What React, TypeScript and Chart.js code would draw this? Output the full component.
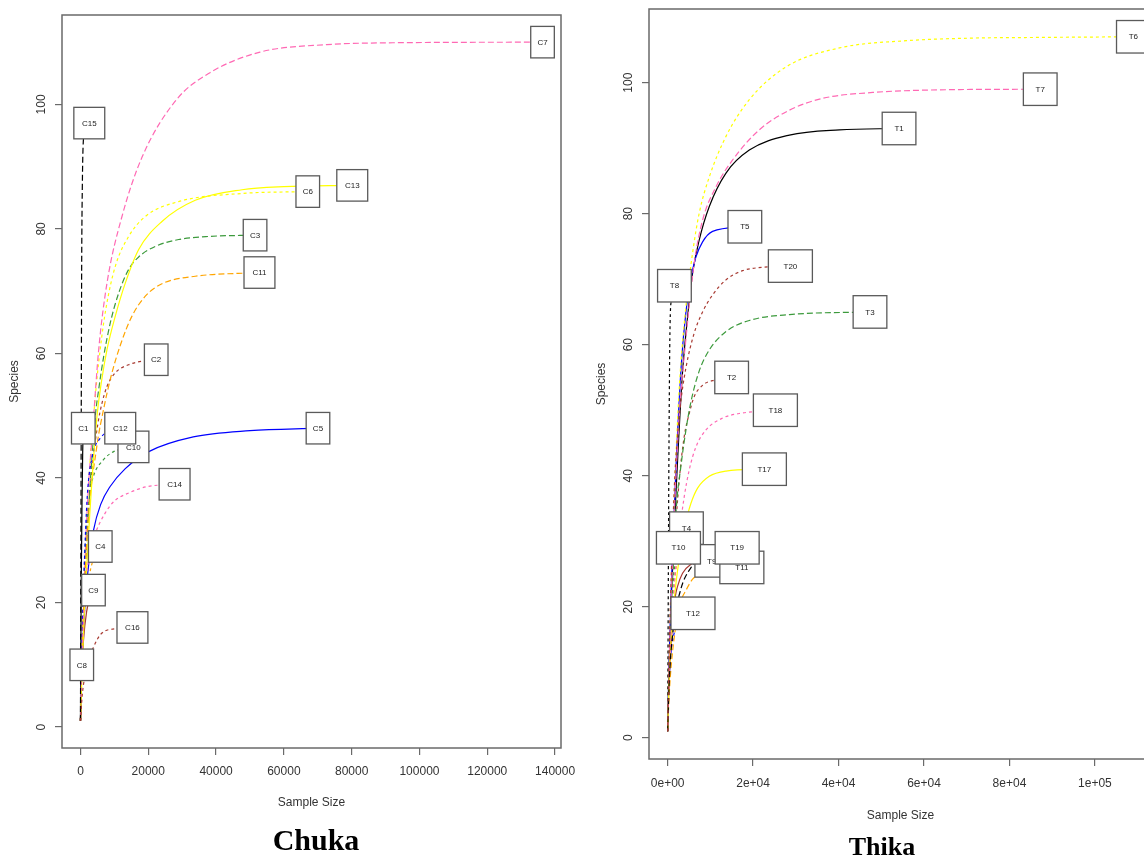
import React, { useEffect, useRef } from "react";
import { Chart, registerables } from "chart.js";

Chart.register(...registerables);

type Pair = [number, number];

// ---------- Chuka: [sample size, species] ----------
const C1: Pair[] = [[1, 1], [100, 12], [250, 25], [450, 36], [650, 44], [830, 48]];
const C2: Pair[] = [[1, 1], [500, 15], [2000, 32], [3500, 42], [5160, 48.8], [6340, 52], [7820, 54.7], [10270, 56.9], [14220, 58.2], [18530, 58.8], [22340, 59]];
const C3: Pair[] = [[1, 1], [700, 15], [2300, 34], [4370, 49.9], [5370, 54.2], [6840, 59.5], [8790, 64.9], [11270, 69.7], [14220, 73.5], [17170, 75.5], [22070, 77.2], [28970, 78.3], [38000, 78.8], [51500, 79]];
const C4: Pair[] = [[1, 1], [300, 9], [1000, 17], [2200, 23], [3800, 27], [5840, 29]];
const C5: Pair[] = [[1, 1], [300, 8], [1000, 17], [2200, 25], [3890, 31.7], [6000, 35.8], [8700, 38.6], [13220, 41.5], [20000, 44.2], [33270, 46.6], [50000, 47.6], [70060, 48]];
const C6: Pair[] = [[1, 1], [600, 15], [1800, 33], [4300, 52.6], [5800, 60.6], [7600, 67.5], [10270, 74], [14220, 78.8], [19120, 82], [28970, 84.4], [47640, 85.7], [67050, 86]];
const C7: Pair[] = [[1, 1], [600, 14], [1800, 33], [3890, 49.9], [5370, 60.6], [7820, 71.3], [12240, 82], [18140, 91.5], [28380, 100.8], [38200, 105.1], [52950, 108.4], [72630, 109.6], [92180, 109.9], [136300, 110]];
const C8: Pair[] = [[1, 1], [100, 4], [200, 7], [380, 10]];
const C9: Pair[] = [[1, 1], [300, 8], [900, 14], [1800, 18.5], [2800, 20.8], [3830, 22]];
const C10: Pair[] = [[1, 1], [300, 10], [1000, 24], [2800, 37.6], [3780, 40.2], [6730, 42.9], [9680, 44.2], [15620, 45]];
const C11: Pair[] = [[1, 1], [500, 12], [2000, 31], [4800, 45], [6800, 51], [9000, 56.3], [11800, 61.4], [15190, 66], [19120, 69.2], [24040, 71.2], [33860, 72.4], [52800, 73]];
const C12: Pair[] = [[1, 1], [300, 10], [1000, 24], [2000, 37], [3500, 43.5], [6000, 46.5], [9000, 47.6], [11730, 48]];
const C13: Pair[] = [[1, 1], [800, 14], [2500, 32], [4870, 49.9], [6140, 55.3], [7820, 60.6], [10270, 66], [13220, 71.3], [17170, 76.7], [24040, 81.2], [33860, 84.6], [47640, 86.3], [60000, 86.8], [80170, 87]];
const C14: Pair[] = [[1, 1], [400, 10], [1000, 19], [1830, 24.5], [2900, 28.5], [4370, 31.1], [7320, 34.4], [10000, 36.3], [14220, 37.6], [19500, 38.6], [27760, 39]];
const C15: Pair[] = [[1, 1], [60, 15], [150, 35], [250, 55], [350, 73.5], [550, 87], [830, 94], [1500, 96.3], [2600, 97]];
const C16: Pair[] = [[1, 1], [500, 5], [1830, 9.5], [3890, 12.9], [6340, 15.1], [10500, 15.8], [15330, 16]];

const chukaNames = ["C1", "C2", "C3", "C4", "C5", "C6", "C7", "C8", "C9", "C10", "C11", "C12", "C13", "C14", "C15", "C16"];
const chukaCurves: Pair[][] = [C1, C2, C3, C4, C5, C6, C7, C8, C9, C10, C11, C12, C13, C14, C15, C16];
const chukaXTicks = [0, 20000, 40000, 60000, 80000, 100000, 120000, 140000];
const chukaXTickLabels = ["0", "20000", "40000", "60000", "80000", "100000", "120000", "140000"];
const chukaYTicks = [0, 20, 40, 60, 80, 100];
const chukaYTickLabels = ["0", "20", "40", "60", "80", "100"];

// ---------- Thika ----------
const T1: Pair[] = [[1, 1], [300, 10], [900, 22], [2000, 38], [3400, 55], [4400, 62.5], [5840, 70.9], [7400, 76], [9750, 81.1], [13660, 86.2], [19120, 89.7], [28500, 92], [40220, 92.8], [54160, 93]];
const T2: Pair[] = [[1, 1], [400, 11], [1300, 26], [2720, 39.3], [3890, 46], [5060, 49.5], [6230, 52.1], [8180, 53.8], [10990, 54.6], [14980, 55]];
const T3: Pair[] = [[1, 1], [400, 11], [1950, 34.3], [3120, 41.5], [4290, 47], [5460, 51.3], [7400, 56], [9750, 59.2], [13660, 62], [19120, 63.7], [28500, 64.6], [47360, 65]];
const T4: Pair[] = [[1, 1], [300, 10], [900, 18], [1800, 25], [3000, 29.5], [4400, 32]];
const T5: Pair[] = [[1, 1], [300, 10], [900, 24], [2000, 42], [3200, 57], [4290, 65], [5690, 70.9], [6630, 73.4], [8180, 75.7], [10520, 77.3], [18070, 78]];
const T6: Pair[] = [[1, 1], [400, 13], [1300, 32], [2600, 52], [4000, 64], [5840, 74], [7400, 80.1], [9750, 85.6], [13660, 91.8], [19120, 97.4], [27720, 102.4], [40220, 105.3], [55850, 106.4], [71460, 106.8], [87090, 106.9], [109000, 107]];
const T7: Pair[] = [[1, 1], [400, 12], [1300, 30], [2600, 48], [4300, 61], [6230, 72.5], [8180, 79], [11320, 84.1], [15210, 88.2], [21470, 92.8], [28500, 95.8], [36300, 97.6], [48020, 98.5], [63650, 98.9], [87200, 99]];
const T8: Pair[] = [[1, 1], [80, 12], [200, 30], [350, 48], [540, 62], [900, 67], [1590, 69]];
const T9: Pair[] = [[1, 1], [300, 8], [900, 15], [1780, 21.5], [2320, 23.1], [3490, 25.1], [5460, 26.5], [7800, 26.9], [10330, 27]];
const T10: Pair[] = [[1, 1], [200, 8], [600, 16], [1200, 23], [1800, 27], [2530, 29]];
const T11: Pair[] = [[1, 1], [400, 7], [1300, 14], [3120, 20.8], [4290, 22.5], [5840, 24.2], [8500, 25.3], [12000, 25.8], [17370, 26]];
const T12: Pair[] = [[1, 1], [300, 8], [770, 13], [1550, 16], [3000, 18], [4500, 18.8], [5930, 19]];
const T17: Pair[] = [[1, 1], [400, 10], [1550, 21], [2320, 25.5], [3500, 30.5], [4660, 34], [5460, 35.8], [7010, 38.1], [9750, 39.9], [13660, 40.7], [22640, 41]];
const T18: Pair[] = [[1, 1], [400, 10], [1400, 22], [2600, 30.5], [3890, 36.8], [5060, 40.9], [6630, 44.4], [8980, 47], [12870, 48.8], [16780, 49.5], [25220, 50]];
const T19: Pair[] = [[1, 1], [400, 9], [1400, 17], [3000, 22.5], [5500, 26], [9000, 28], [12500, 28.7], [16270, 29]];
const T20: Pair[] = [[1, 1], [400, 14], [1550, 38], [2320, 46], [3120, 51.5], [4290, 56.5], [6230, 61.8], [8180, 65], [10520, 67.6], [13660, 69.9], [17550, 71.3], [22000, 71.8], [28730, 72]];

const thikaNames = ["T1", "T2", "T3", "T4", "T5", "T6", "T7", "T8", "T9", "T10", "T11", "T12", "T17", "T18", "T19", "T20"];
const thikaCurves: Pair[][] = [T1, T2, T3, T4, T5, T6, T7, T8, T9, T10, T11, T12, T17, T18, T19, T20];
const thikaXTicks = [0, 20000, 40000, 60000, 80000, 100000];
const thikaXTickLabels = ["0e+00", "2e+04", "4e+04", "6e+04", "8e+04", "1e+05"];
const thikaYTicks = [0, 20, 40, 60, 80, 100];
const thikaYTickLabels = ["0", "20", "40", "60", "80", "100"];

// ---------- styles ----------
const palette = ["#000000", "#A83A32", "#3C9A3C", "#FFA500", "#0000FF", "#FFFF00", "#FF69B4"];
const dashes: number[][] = [[], [3, 3], [6, 3], [3, 3]];
const SANS = "'Liberation Sans', Arial, Helvetica, sans-serif";
const AXIS_COLOR = "#6a6a6a";
const TEXT_COLOR = "#333333";

interface PanelCfg {
  names: string[];
  curves: Pair[][];
  left: number;
  top: number;
  width: number;
  height: number;
  padTop: number;
  padRight: number;
  yAxisW: number;
  xAxisH: number;
  xMin: number;
  xMax: number;
  yMin: number;
  yMax: number;
  xTicks: number[];
  yTicks: number[];
  xTickLabels: string[];
  yTickLabels: string[];
  xTickPad: number;
  xTitlePad: number;
  boxBase: number;
  boxPerChar: number;
  boxH: number;
}

function Panel({ cfg }: { cfg: PanelCfg }) {
  const ref = useRef<HTMLCanvasElement | null>(null);

  useEffect(() => {
    if (!ref.current) return;
    const n = cfg.curves.length;

    const framePlugin = {
      id: "rframe",
      beforeDatasetsDraw(chart: any) {
        const { ctx, chartArea } = chart;
        ctx.save();
        ctx.strokeStyle = AXIS_COLOR;
        ctx.lineWidth = 1.5;
        ctx.strokeRect(chartArea.left, chartArea.top, chartArea.right - chartArea.left, chartArea.bottom - chartArea.top);
        ctx.restore();
      },
      afterDraw(chart: any) {
        const { ctx, chartArea } = chart;
        const ys = chart.scales.y;
        ctx.save();
        ctx.font = `12px ${SANS}`;
        ctx.fillStyle = TEXT_COLOR;
        ctx.textAlign = "center";
        ctx.textBaseline = "middle";
        ys.ticks.forEach((t: any, i: number) => {
          const py = ys.getPixelForValue(t.value);
          ctx.save();
          ctx.translate(chartArea.left - 20, py);
          ctx.rotate(-Math.PI / 2);
          ctx.fillText(String(t.label ?? cfg.yTickLabels[i]), 0, 0);
          ctx.restore();
        });
        ctx.restore();
      },
    };

    const labelPlugin = {
      id: "endLabels",
      afterDatasetsDraw(chart: any) {
        const ctx = chart.ctx;
        ctx.save();
        ctx.font = `8px ${SANS}`;
        ctx.textAlign = "center";
        ctx.textBaseline = "middle";
        chart.data.datasets.forEach((ds: any, i: number) => {
          const meta = chart.getDatasetMeta(i);
          const pt = meta.data[meta.data.length - 1];
          if (!pt) return;
          const name = String(ds.label);
          const w = cfg.boxBase + cfg.boxPerChar * name.length;
          const h = cfg.boxH;
          ctx.fillStyle = "#ffffff";
          ctx.fillRect(pt.x - w / 2, pt.y - h / 2, w, h);
          ctx.strokeStyle = "#5a5a5a";
          ctx.lineWidth = 1.3;
          ctx.strokeRect(pt.x - w / 2, pt.y - h / 2, w, h);
          ctx.fillStyle = "#222222";
          ctx.fillText(name, pt.x, pt.y + 0.5);
        });
        ctx.restore();
      },
    };

    const datasets = cfg.curves.map((curve, i) => ({
      label: cfg.names[i],
      data: curve.map(([x, y]) => ({ x, y })),
      borderColor: palette[i % palette.length],
      borderWidth: 1.2,
      borderDash: dashes[i % dashes.length],
      pointRadius: 0,
      pointHoverRadius: 0,
      fill: false,
      cubicInterpolationMode: "monotone" as const,
      order: n - i,
    }));

    const gridOpts = {
      display: true,
      drawOnChartArea: false,
      drawTicks: true,
      tickLength: 7,
      color: AXIS_COLOR,
      lineWidth: 1.2,
    };

    const chart = new Chart(ref.current, {
      type: "line",
      data: { datasets },
      options: {
        animation: false,
        responsive: false,
        maintainAspectRatio: false,
        events: [],
        layout: { padding: { left: 0, top: cfg.padTop, right: cfg.padRight, bottom: 0 } },
        plugins: {
          legend: { display: false },
          tooltip: { enabled: false },
          title: { display: false },
        },
        scales: {
          x: {
            type: "linear",
            position: "bottom",
            min: cfg.xMin,
            max: cfg.xMax,
            afterBuildTicks: (s: any) => {
              s.ticks = cfg.xTicks.map((v) => ({ value: v }));
            },
            afterFit: (s: any) => {
              s.height = cfg.xAxisH;
            },
            border: { display: false },
            grid: gridOpts,
            ticks: {
              autoSkip: false,
              maxRotation: 0,
              minRotation: 0,
              padding: cfg.xTickPad,
              color: TEXT_COLOR,
              font: { family: SANS, size: 12 },
              callback: (_v: any, i: number) => cfg.xTickLabels[i] ?? "",
            },
            title: {
              display: true,
              text: "Sample Size",
              color: TEXT_COLOR,
              font: { family: SANS, size: 12 },
              padding: { top: 0, bottom: cfg.xTitlePad },
            },
          },
          y: {
            type: "linear",
            position: "left",
            min: cfg.yMin,
            max: cfg.yMax,
            afterBuildTicks: (s: any) => {
              s.ticks = cfg.yTicks.map((v) => ({ value: v }));
            },
            afterFit: (s: any) => {
              s.width = cfg.yAxisW;
            },
            border: { display: false },
            grid: gridOpts,
            ticks: {
              display: false,
              autoSkip: false,
              callback: (_v: any, i: number) => cfg.yTickLabels[i] ?? "",
            },
            title: {
              display: true,
              text: "Species",
              color: TEXT_COLOR,
              font: { family: SANS, size: 12 },
              padding: { top: 7.8, bottom: 0 },
            },
          },
        },
      } as any,
      plugins: [framePlugin, labelPlugin],
    });

    return () => chart.destroy();
  }, [cfg]);

  return (
    <canvas
      ref={ref}
      width={cfg.width}
      height={cfg.height}
      style={{
        position: "absolute",
        left: cfg.left,
        top: cfg.top,
        width: cfg.width,
        height: cfg.height,
        display: "block",
      }}
    />
  );
}

const chukaCfg: PanelCfg = {
  names: chukaNames,
  curves: chukaCurves,
  left: 0,
  top: 0,
  width: 590,
  height: 830,
  padTop: 15,
  padRight: 29,
  yAxisW: 62,
  xAxisH: 82,
  xMin: -5450,
  xMax: 141750,
  yMin: -3.36,
  yMax: 114.36,
  xTicks: chukaXTicks,
  yTicks: chukaYTicks,
  xTickLabels: chukaXTickLabels,
  yTickLabels: chukaYTickLabels,
  xTickPad: 9.8,
  xTitlePad: 19.8,
  boxBase: 9,
  boxPerChar: 7.3,
  boxH: 31.5,
};

const thikaCfg: PanelCfg = {
  names: thikaNames,
  curves: thikaCurves,
  left: 587,
  top: 0,
  width: 590,
  height: 840,
  padTop: 9,
  padRight: 25,
  yAxisW: 62,
  xAxisH: 81,
  xMin: -4360,
  xMax: 113360,
  yMin: -3.24,
  yMax: 111.24,
  xTicks: thikaXTicks,
  yTicks: thikaYTicks,
  xTickLabels: thikaXTickLabels,
  yTickLabels: thikaYTickLabels,
  xTickPad: 10.8,
  xTitlePad: 16.8,
  boxBase: 13.1,
  boxPerChar: 10.3,
  boxH: 32.5,
};

const SERIF = "'Liberation Serif', 'Times New Roman', Times, serif";

export default function App() {
  return (
    <div
      style={{
        position: "absolute",
        left: 0,
        top: 0,
        width: 1144,
        height: 859,
        overflow: "hidden",
        background: "#ffffff",
      }}
    >
      <Panel cfg={chukaCfg} />
      <Panel cfg={thikaCfg} />
      <div
        style={{
          position: "absolute",
          left: 316,
          top: 840,
          transform: "translate(-50%, -50%)",
          font: `bold 30px ${SERIF}`,
          lineHeight: "30px",
          whiteSpace: "nowrap",
          color: "#000",
        }}
      >
        Chuka
      </div>
      <div
        style={{
          position: "absolute",
          left: 882,
          top: 847,
          transform: "translate(-50%, -50%)",
          font: `bold 26px ${SERIF}`,
          lineHeight: "26px",
          whiteSpace: "nowrap",
          color: "#000",
        }}
      >
        Thika
      </div>
    </div>
  );
}
